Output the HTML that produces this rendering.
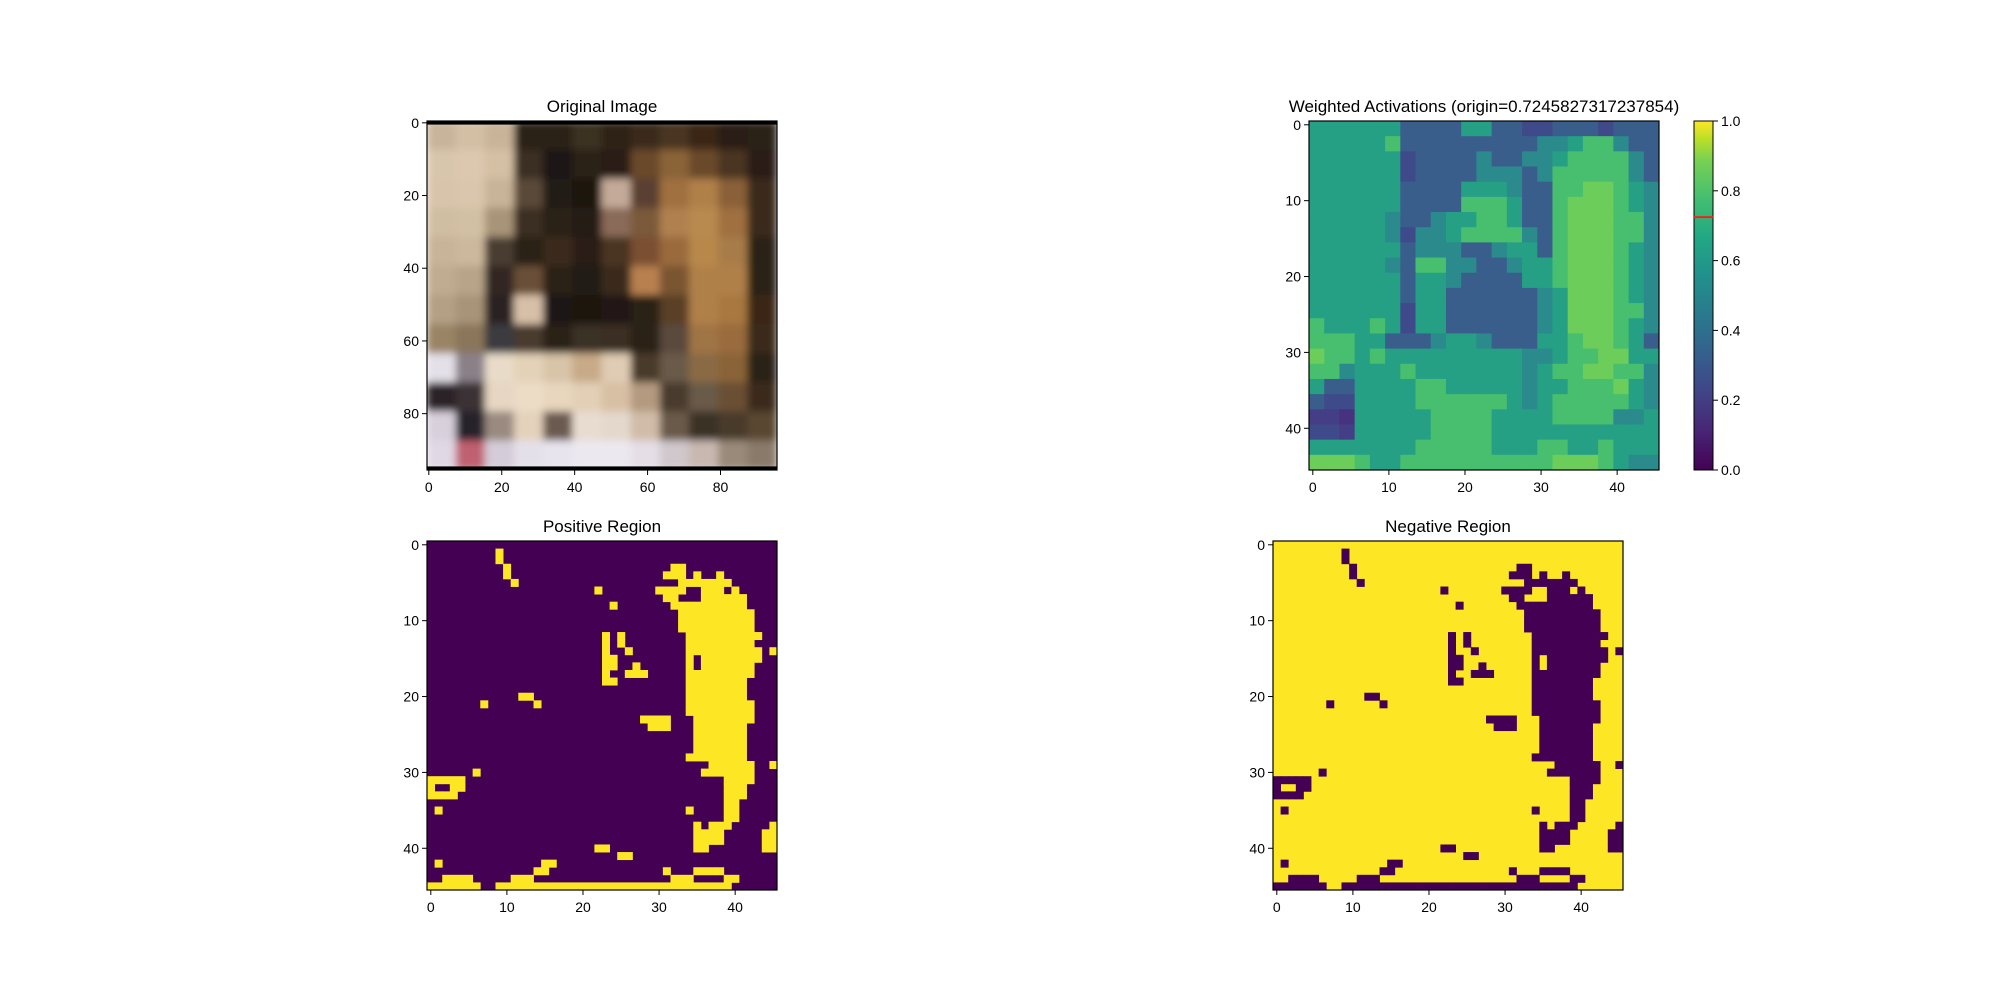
<!DOCTYPE html>
<html><head><meta charset="utf-8">
<style>
html,body{margin:0;padding:0;background:#fff;}
svg{display:block;font-family:"Liberation Sans","DejaVu Sans",sans-serif;}
</style></head>
<body>
<svg id="fig" width="2000" height="1000" viewBox="0 0 2000 1000" xmlns="http://www.w3.org/2000/svg">
<defs>
<filter id="soft" x="0" y="0" width="1" height="1"><feGaussianBlur stdDeviation="4"/></filter>
<clipPath id="dogclip"><rect x="427" y="121" width="350" height="349"/></clipPath>
<linearGradient id="viridis" x1="0" y1="1" x2="0" y2="0">
<stop offset="0" stop-color="#440154"/><stop offset="0.11" stop-color="#482475"/><stop offset="0.22" stop-color="#414487"/><stop offset="0.33" stop-color="#355f8d"/><stop offset="0.44" stop-color="#2a788e"/><stop offset="0.56" stop-color="#21918c"/><stop offset="0.67" stop-color="#22a884"/><stop offset="0.78" stop-color="#44bf70"/><stop offset="0.89" stop-color="#7ad151"/><stop offset="0.95" stop-color="#bddf26"/><stop offset="1" stop-color="#fde725"/>
</linearGradient>
</defs>
<g id="root"></g>
</svg>
<script>
// ---- data ----
const maskRows = [
"",
"9","9","10,32-33","10,31-33,35,38","11,33-39","22,30-33,36-38,40","31-32,36-41","24,32-41","33-42","33-42","33-42",
"23,25,34-43","23,25,34-42","23,26,34-43,45","23-24,34,36-43","23-24,27,34,36-42","23,26-28,34-42","23-24,34-41","34-41",
"12-13,34-41","7,14,34-42","34-42","28-31,35-42","29-31,35-41","35-41","35-41","35-41","34-41","37-42,45",
"6,36-42","0-4,39-42","0,3-4,39-41","0-3,39-41","39-40","1,34,39-40","39-40","35,37-39,45","35-38,44-45","35-38,44-45",
"22-23,35-36,44-45","25-26","1,15-16","14-15,31,35-38","2-5,11-13,32-34,39-40","0-6,9-39"
];
const heatRows = [
"66666644446644334443444",
"66666744444444455677544",
"66666634444544556777754",
"66666634444555457777754",
"66666644446665447788765",
"66666644447776447888765",
"66666544566776447888775",
"66666535567777547888775",
"66666645554456647888765",
"66666547755445667888765",
"66666646654444667888765",
"66666646644444456888765",
"66666636644444456888775",
"76667636644444456888765",
"77766444566544466788764",
"87767666666666556778866",
"77566676666666567788775",
"64466667766666566777865",
"43366667777776567777765",
"22166666777766667777556",
"33266666777766666666666",
"66666667777766677667666",
"88876677777777778887655"
];
const heatPalette = ["#440154","#46327e","#433e85","#3e4a89","#3a5e8c","#2a8a8c","#25a085","#48bf6e","#6ccd5a","#cfe11c"];
const dogRows = [
["#c8b49a","#d2bfa4","#c9b49a","#2a2018","#2c2218","#3a3020","#2e2418","#3a2c1c","#4a3422","#3a2818","#2a1e14","#2a2014"],
["#d8c6ac","#dcc8ae","#d4c0a4","#3a2e24","#1e1812","#2a2018","#2a1e16","#6a4a2c","#8a6438","#6a4a2a","#4a3420","#2a1e14"],
["#d8c4aa","#dac6ac","#c8b498","#5a4838","#201a14","#1a1410","#c4aa98","#5a4030","#a07040","#b08048","#8a6038","#3a2a1c"],
["#d0bea2","#d2c0a4","#a89478","#3a2e24","#2a2018","#281e16","#8a6a58","#7a5a3a","#b08050","#b88a50","#a07040","#3a2a1a"],
["#c8b498","#ccb89c","#4a3c30","#2c2218","#3a2a1e","#2a1e16","#4a3424","#7a5030","#9a6a3c","#b8884c","#a87c48","#2a2018"],
["#c0ac90","#b8a488","#302820","#6a5038","#2a2018","#221a14","#3a2a1c","#b88050","#7a5432","#b08048","#b08048","#2a2018"],
["#b4a084","#a89478","#2a2420","#d8c0a8","#1e1812","#1a1410","#201812","#2a2018","#5a4028","#b08048","#a87840","#3a2818"],
["#9a8466","#8a765a","#3a3a40","#4a3a2e","#2a2018","#3a3028","#3a2e22","#2a2018","#5a4a3c","#a07444","#9a6c3c","#3a2a1a"],
["#e4e0e8","#8a8088","#e8dcc8","#e4d2b8","#d8c4a8","#c8aa88","#e0ccb4","#4a3a2c","#6a5a48","#8a6a44","#8a6438","#2a2018"],
["#2a2428","#3a3034","#e6d6c2","#ecdcc6","#e8d6be","#e2cfb6","#d8c0a4","#b49a80","#4a3a2e","#6a5a48","#6a5034","#3a2a1e"],
["#d8d0dc","#28222a","#9a8a80","#e4d2bc","#6a5a50","#e8dcd0","#e4d8cc","#d0bca8","#6a5a48","#3a3028","#4a3a2c","#5a4630"],
["#e0d8e4","#c06070","#d4ccd8","#e4e0ea","#e8e4ee","#ece8f0","#ece8f0","#e4dee6","#d0c8cc","#c8b8b0","#9a8a7a","#8a7a6a"]
];
const dogTicks = [0,20,40,60,80];
const gridTicks = [0,10,20,30,40];
const cbarTicks = [0.0,0.2,0.4,0.6,0.8,1.0];
const originValue = 0.7245827317237854;

// ---- helpers ----
const NS = "http://www.w3.org/2000/svg";
const root = document.getElementById('root');
function mk(tag, attrs, parent){
  const e = document.createElementNS(NS, tag);
  for (const k in attrs) e.setAttribute(k, attrs[k]);
  (parent||root).appendChild(e);
  return e;
}
function parseRow(s){
  const set = new Set();
  if(!s) return set;
  s.split(',').forEach(p=>{
    const [a,b] = p.split('-').map(Number);
    for(let i=a;i<=(b===undefined?a:b);i++) set.add(i);
  });
  return set;
}
function axisScale(x0, size, n){ return v => x0 + (v+0.5)/n*size; }

function ticksAndFrame(g, x0, y0, w, h, n, ticks){
  const sx = axisScale(x0,w,n), sy = axisScale(y0,h,n);
  const fr = mk('rect',{x:x0,y:y0,width:w,height:h,fill:'none',stroke:'#000','stroke-width':1.2},g);
  
  
  ticks.forEach(t=>{
    const X = sx(t), Y = sy(t);
    const tx = mk('line',{x1:X,y1:y0+h,x2:X,y2:y0+h+5,stroke:'#000','stroke-width':1},g);
    
    
    const lx = mk('text',{x:X,y:y0+h+22,'text-anchor':'middle','font-size':14,fill:'#000'},g);
    lx.textContent = t;
    
    
    const ty = mk('line',{x1:x0-5,y1:Y,x2:x0,y2:Y,stroke:'#000','stroke-width':1},g);
    
    
    const ly = mk('text',{x:x0-8,y:Y+5,'text-anchor':'end','font-size':14,fill:'#000'},g);
    ly.textContent = t;
    
    
  });
}
function title(g, cx, y, txt, name){
  const t = mk('text',{x:cx,y:y,'text-anchor':'middle','font-size':17,fill:'#000'},g);
  t.textContent = txt;
  
  
}

// ---- Original image ----
(function(){
  const x0=427,y0=121,w=350,h=349;
  const g = mk('g',{});
  
  
  const ig = mk('g',{'clip-path':'url(#dogclip)'},g);
  const inner = mk('g',{filter:'url(#soft)'},ig);
  const n = dogRows.length, cw = w/n, ch = h/n;
  dogRows.forEach((row,r)=>row.forEach((c,ci)=>{
    const e = mk('rect',{x:x0+ci*cw-0.5,y:y0+r*ch-0.5,width:cw+1,height:ch+1,fill:c},inner);
    
    
  }));
  const b1 = mk('rect',{x:x0,y:y0,width:w,height:3.6,fill:'#000'},ig);
  
  
  const b2 = mk('rect',{x:x0,y:y0+h-3.6,width:w,height:3.6,fill:'#000'},ig);
  
  
  ticksAndFrame(g,x0,y0,w,h,96,dogTicks);
  title(g,x0+w/2,112,'Original Image','original-image-title');
})();

// ---- Weighted activations ----
(function(){
  const x0=1309,y0=121,w=350,h=349;
  const g = mk('g',{});
  
  
  const n = heatRows.length, cw=w/n, ch=h/n;
  heatRows.forEach((row,r)=>row.split('').forEach((d,ci)=>{
    const e = mk('rect',{x:x0+ci*cw,y:y0+r*ch,width:cw+0.4,height:ch+0.4,fill:heatPalette[+d]},g);
    
    
  }));
  ticksAndFrame(g,x0,y0,w,h,46,gridTicks);
  title(g,1484,112,'Weighted Activations (origin=0.7245827317237854)','weighted-activations-title');
  const cx=1694, cwid=19;
  const cb = mk('rect',{x:cx,y:y0,width:cwid,height:h,fill:'url(#viridis)',stroke:'#000','stroke-width':1},g);
  
  
  const cy = v => y0 + h - v*h;
  const ol = mk('line',{x1:cx,y1:cy(originValue),x2:cx+cwid,y2:cy(originValue),stroke:'#e8281e','stroke-width':2},g);
  
  
  cbarTicks.forEach(t=>{
    const tk = mk('line',{x1:cx+cwid,y1:cy(t),x2:cx+cwid+5,y2:cy(t),stroke:'#000'},g);
    
    
    const lb = mk('text',{x:cx+cwid+8,y:cy(t)+5,'font-size':14,fill:'#000'},g);
    lb.textContent = t.toFixed(1);
    
    
  });
})();

// ---- Masks ----
function drawMask(x0, ttl, name, invert){
  const y0=541,w=350,h=349,n=46,cw=w/n,ch=h/n;
  const g = mk('g',{});
  
  
  const bg = mk('rect',{x:x0,y:y0,width:w,height:h,fill:invert?'#fde725':'#440154'},g);
  
  
  maskRows.forEach((s,r)=>{
    parseRow(s).forEach(c=>{
      const e = mk('rect',{x:x0+c*cw,y:y0+r*ch,width:cw+0.4,height:ch+0.4,fill:invert?'#440154':'#fde725'},g);
      
      
    });
  });
  ticksAndFrame(g,x0,y0,w,h,n,gridTicks);
  title(g,x0+w/2,532,ttl,name+'-title');
}
drawMask(427,'Positive Region','positive-region',false);
drawMask(1273,'Negative Region','negative-region',true);
</script>
</body></html>
